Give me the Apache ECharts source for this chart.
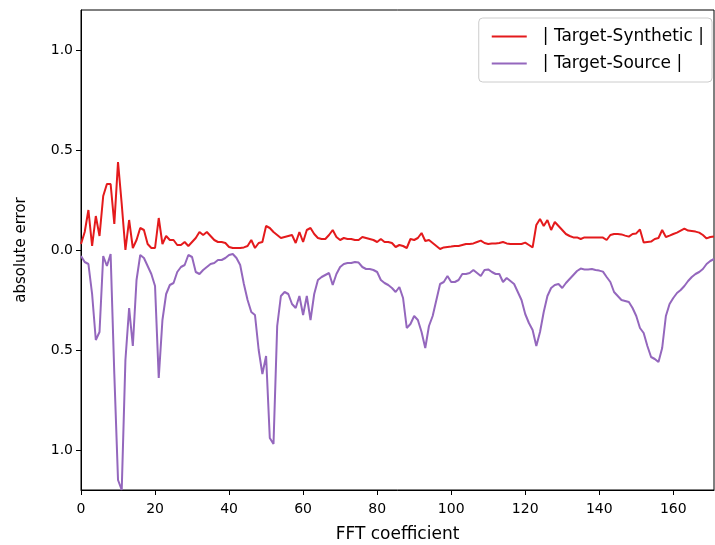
<!DOCTYPE html>
<html>
<head>
<meta charset="utf-8">
<script src="https://cdn.jsdelivr.net/npm/echarts@6/dist/echarts.min.js"></script>
<style>
  html, body { margin: 0; padding: 0; background: #fff; }
  #chart { width: 715px; height: 545px; }
</style>
</head>
<body>
<div id="chart"></div>
<script>
// FFT coefficient 0..171
var synthErr = [
  0.03, 0.09, 0.2, 0.02, 0.17, 0.07, 0.27, 0.33, 0.33, 0.13,
  0.44, 0.23, 0.0, 0.15, 0.01, 0.05, 0.11, 0.1, 0.03, 0.01,
  0.01, 0.16, 0.03, 0.07, 0.05, 0.05, 0.025, 0.025, 0.04, 0.02,
  0.04, 0.06, 0.09, 0.075, 0.09, 0.07, 0.05, 0.04, 0.04, 0.035,
  0.015, 0.01, 0.01, 0.01, 0.013, 0.02, 0.05, 0.01, 0.035, 0.04,
  0.12, 0.11, 0.09, 0.075, 0.06, 0.065, 0.07, 0.075, 0.035, 0.09,
  0.04, 0.1, 0.11, 0.08, 0.06, 0.055, 0.055, 0.075, 0.1, 0.065,
  0.05, 0.06, 0.055, 0.055, 0.05, 0.05, 0.065, 0.06, 0.055, 0.05,
  0.04, 0.055, 0.04, 0.04, 0.035, 0.015, 0.025, 0.02, 0.01, 0.055,
  0.05, 0.06, 0.085, 0.045, 0.05, 0.035, 0.02, 0.005, 0.013, 0.015,
  0.017, 0.02, 0.02, 0.025, 0.03, 0.03, 0.033, 0.04, 0.047, 0.035,
  0.03, 0.033, 0.033, 0.035, 0.04, 0.033, 0.03, 0.03, 0.03, 0.03,
  0.037, 0.025, 0.013, 0.125, 0.155, 0.12, 0.15, 0.1, 0.14, 0.12,
  0.1, 0.08, 0.07, 0.063, 0.063, 0.055, 0.063, 0.063, 0.063, 0.063,
  0.062, 0.062, 0.05, 0.075, 0.08, 0.08, 0.078, 0.072, 0.067, 0.08,
  0.083, 0.103, 0.037, 0.04, 0.042, 0.055, 0.06, 0.1, 0.065, 0.072,
  0.08, 0.087, 0.097, 0.107, 0.097, 0.095, 0.092, 0.087, 0.075, 0.058,
  0.065, 0.068
];
// plotted below zero
var sourceErr = [
  -0.03, -0.06, -0.07, -0.22, -0.45, -0.41, -0.03, -0.08, -0.02, -0.62,
  -1.15, -1.2, -0.55, -0.29, -0.48, -0.15, -0.025, -0.04, -0.08, -0.12,
  -0.18, -0.64, -0.35, -0.22, -0.175, -0.165, -0.11, -0.085, -0.075, -0.025,
  -0.035, -0.11, -0.12, -0.1, -0.085, -0.07, -0.065, -0.05, -0.05, -0.04,
  -0.025, -0.02, -0.04, -0.075, -0.17, -0.25, -0.31, -0.325, -0.5, -0.62,
  -0.53, -0.94, -0.97, -0.38, -0.23, -0.21, -0.22, -0.27, -0.29, -0.23,
  -0.325, -0.23, -0.35, -0.22, -0.15, -0.135, -0.125, -0.115, -0.175, -0.12,
  -0.085, -0.07, -0.065, -0.065, -0.06, -0.063, -0.085, -0.095, -0.095, -0.1,
  -0.11, -0.15, -0.165, -0.175, -0.19, -0.21, -0.185, -0.24, -0.39, -0.37,
  -0.33, -0.35, -0.41, -0.49, -0.38, -0.33, -0.25, -0.17, -0.16, -0.13,
  -0.16, -0.16, -0.15, -0.12, -0.12, -0.115, -0.1, -0.115, -0.13, -0.1,
  -0.097, -0.11, -0.12, -0.12, -0.16, -0.14, -0.155, -0.17, -0.21, -0.25,
  -0.32, -0.365, -0.4, -0.48, -0.41, -0.31, -0.23, -0.19, -0.175, -0.17,
  -0.19, -0.165, -0.145, -0.125, -0.105, -0.093, -0.097, -0.097, -0.095, -0.1,
  -0.103, -0.108, -0.135, -0.16, -0.21, -0.23, -0.25, -0.255, -0.26, -0.29,
  -0.33, -0.39, -0.415, -0.48, -0.535, -0.545, -0.56, -0.49, -0.33, -0.27,
  -0.24, -0.215, -0.2, -0.18, -0.155, -0.135, -0.12, -0.11, -0.095, -0.07,
  -0.055, -0.045
];
var xTicks = [0, 20, 40, 60, 80, 100, 120, 140, 160];
var yTicks = [-1, -0.5, 0, 0.5, 1];

function pairs(arr) {
  return arr.map(function (v, i) { return [i, v]; });
}

var font = 'DejaVu Sans';
var lineIcon = 'path://M0 0H100V6H0Z';
var myChart = echarts.init(document.getElementById('chart'));
var option = {
  animation: false,
  backgroundColor: '#fff',
  textStyle: { fontFamily: font },
  grid: {
    left: 81, right: 1, top: 10, bottom: 55,
    outerBoundsMode: 'none',
    show: true, borderColor: '#000', borderWidth: 1
  },
  legend: {
    orient: 'vertical',
    right: 3,
    top: 18,
    padding: [10, 8, 10, 13],
    itemWidth: 35,
    itemHeight: 14,
    itemGap: 10,
    icon: lineIcon,
    borderColor: '#cccccc',
    borderWidth: 1,
    borderRadius: 4,
    backgroundColor: '#fff',
    textStyle: { fontSize: 17, color: '#000', fontFamily: font, padding: [0, 0, 0, 11] },
    data: ['| Target-Synthetic |', '| Target-Source |']
  },
  xAxis: {
    type: 'value',
    min: 0,
    max: 171,
    name: 'FFT coefficient',
    nameLocation: 'middle',
    nameGap: 36,
    nameTextStyle: { fontSize: 17, color: '#000', fontFamily: font },
    axisLine: { show: true, onZero: false, lineStyle: { color: '#000', width: 1 } },
    axisTick: { show: true, length: 5, lineStyle: { color: '#000' }, customValues: xTicks },
    axisLabel: { fontSize: 14, color: '#000', margin: 12, customValues: xTicks },
    splitLine: { show: false }
  },
  yAxis: {
    type: 'value',
    min: -1.2,
    max: 1.2,
    name: 'absolute error',
    nameLocation: 'middle',
    nameGap: 52,
    nameTextStyle: { fontSize: 15, color: '#000', fontFamily: font },
    axisLine: { show: true, onZero: false, lineStyle: { color: '#000', width: 1 } },
    axisTick: { show: true, length: 5, lineStyle: { color: '#000' }, customValues: yTicks },
    axisLabel: {
      fontSize: 14, color: '#000', margin: 8, customValues: yTicks,
      formatter: function (v) { return Math.abs(v).toFixed(1); }
    },
    splitLine: { show: false }
  },
  series: [
    {
      name: '| Target-Synthetic |',
      type: 'line',
      symbol: 'none',
      lineStyle: { color: '#e41a1c', width: 2 },
      itemStyle: { color: '#e41a1c' },
      data: pairs(synthErr)
    },
    {
      name: '| Target-Source |',
      type: 'line',
      symbol: 'none',
      lineStyle: { color: '#9467bd', width: 2 },
      itemStyle: { color: '#9467bd' },
      data: pairs(sourceErr)
    }
  ]
};
myChart.setOption(option);
window.addEventListener('resize', function () {
  myChart.resize();
});
</script>
</body>
</html>
